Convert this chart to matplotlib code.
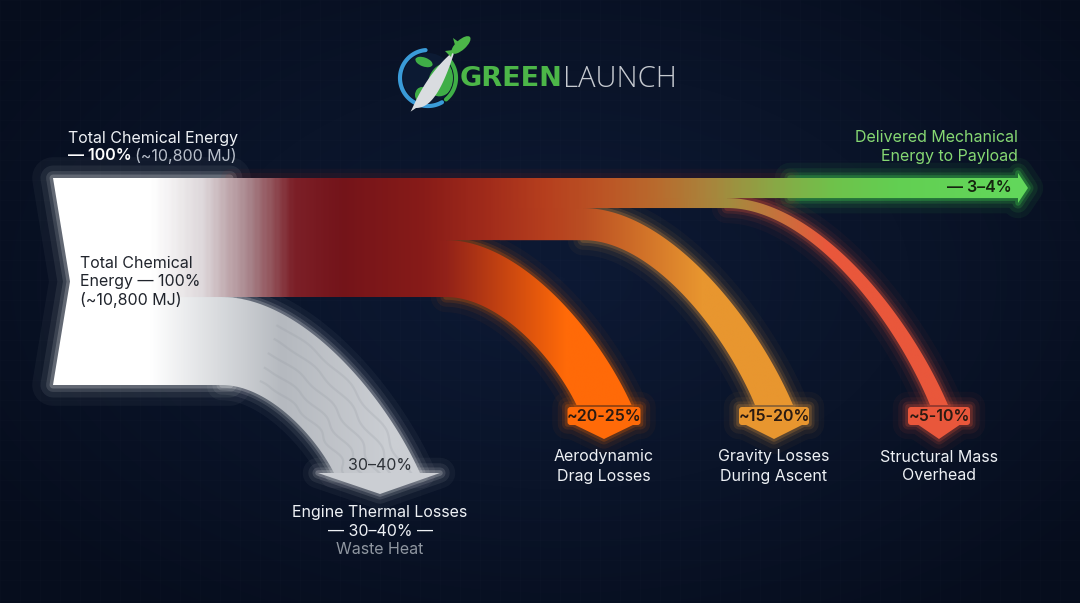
import numpy as np
import matplotlib
matplotlib.use("Agg")
import matplotlib.pyplot as plt
from matplotlib.patches import Polygon, FancyBboxPatch, Circle, Ellipse
from matplotlib.colors import LinearSegmentedColormap

# values (top to bottom of the source band)
flow_names = ["Delivered Mechanical\nEnergy to Payload", "Structural Mass\nOverhead",
              "Gravity Losses\nDuring Ascent", "Aerodynamic\nDrag Losses",
              "Engine Thermal Losses"]
flow_labels = ["— 3–4%", "~5-10%", "~15-20%", "~20-25%", "30–40%"]
band_pct = [9.7, 4.8, 15.5, 27.5, 42.5]  # drawn band thickness, % of source
source_title = "Total Chemical Energy"
source_value = "— 100%"
source_mj = "(~10,800 MJ)"
thermal_sub = ["— 30–40% —", "Waste Heat"]

FONT = ["Inter", "DejaVu Sans"]
BG = "#0a1429"

# layout (pixels)
TOP, HEIGHT = 178, 207
split_x = [None, 727, 583, 446, 222]
arrow_x = [None, 939, 774, 604, 377]
end_y = [None, 405, 405, 405, 473]
end_w = [None, 18, 38, 55, 86]
ext_left = [None, 640, 500, 390, 150]
fade_len = [None, 100, 120, 120, None]
branch_col = [None, "#e9573b", "#e8962f", "#ff6a08", None]
glow_col = [None, "#ff5a3a", "#f0a040", "#ff6a00", "#ffffff"]

y_edges = TOP + HEIGHT * np.concatenate([[0], np.cumsum(band_pct)]) / 100.0


def bez(p0, p3, k1=0.4, k2=(0.18, 0.45), n=80):
    p0 = np.array(p0, float)
    p3 = np.array(p3, float)
    dx, dy = p3 - p0
    p1 = np.array([p0[0] + k1 * dx, p0[1]])
    p2 = np.array([p3[0] - k2[0] * dx, p3[1] - k2[1] * dy])
    t = np.linspace(0, 1, n)[:, None]
    return (1 - t) ** 3 * p0 + 3 * (1 - t) ** 2 * t * p1 + 3 * (1 - t) * t ** 2 * p2 + t ** 3 * p3


def grad_fill(ax, verts, cmap, tfunc, z):
    verts = np.asarray(verts, float)
    poly = Polygon(verts, closed=True, facecolor="none", edgecolor="none", zorder=z)
    ax.add_patch(poly)
    x0, y0 = verts.min(0) - 1
    x1, y1 = verts.max(0) + 1
    X, Y = np.meshgrid(np.linspace(x0, x1, 400), np.linspace(y0, y1, 300))
    im = ax.imshow(np.clip(tfunc(X, Y), 0, 1), cmap=cmap, vmin=0, vmax=1,
                   extent=(x0, x1, y1, y0), origin="upper", zorder=z,
                   interpolation="bilinear", aspect="auto")
    im.set_clip_path(poly)
    return poly


def glow(ax, verts, color, z, widths=(22, 14, 8, 4), alphas=(0.04, 0.07, 0.12, 0.2)):
    for w, a in zip(widths, alphas):
        ax.add_patch(Polygon(verts, closed=True, fill=False, edgecolor=color, lw=w,
                             alpha=a, joinstyle="round", zorder=z))


fig = plt.figure(figsize=(10.8, 6.03), dpi=100)
fig.patch.set_facecolor(BG)
ax = fig.add_axes([0, 0, 1, 1])
ax.set_facecolor(BG)

# background: soft vignette and faint grid
X, Y = np.meshgrid(np.linspace(0, 1080, 216), np.linspace(0, 603, 120))
r = np.sqrt(((X - 560) / 700) ** 2 + ((Y - 280) / 420) ** 2)
bg_cmap = LinearSegmentedColormap.from_list("bg", ["#0d1934", "#0a1429", "#060d1d"])
ax.imshow(np.clip(r, 0, 1), cmap=bg_cmap, extent=(0, 1080, 603, 0), origin="upper",
          zorder=0, aspect="auto", interpolation="bilinear")
for gx in np.arange(0, 1080, 20):
    ax.axvline(gx, color="#ffffff", lw=0.5, alpha=0.015, zorder=0.5)
for gy in np.arange(0, 603, 20):
    ax.axhline(gy, color="#ffffff", lw=0.5, alpha=0.015, zorder=0.5)

# trunk (source block + delivered band)
yb = y_edges
trunk = [(53, yb[0]), (1018, yb[0]), (1018, 173), (1028, 188), (1018, 203), (1018, yb[1]),
         (split_x[1], yb[1]), (split_x[1], yb[2]), (split_x[2], yb[2]), (split_x[2], yb[3]),
         (split_x[3], yb[3]), (split_x[3], yb[4]), (split_x[4], yb[4]), (split_x[4], yb[5]),
         (53, yb[5]), (70, (yb[0] + yb[5]) / 2)]
trunk_stops = [(53, "#ffffff"), (150, "#ffffff"), (200, "#ded8db"), (250, "#a57f86"),
               (292, "#7c2028"), (340, "#74141a"), (420, "#871b18"), (490, "#a22c1b"),
               (545, "#b63f1e"), (610, "#bc5726"), (660, "#b86c2e"), (710, "#a9843c"),
               (770, "#8ca545"), (835, "#6fc24b"), (900, "#62cf52"), (1028, "#63d85c")]
tx0, tx1 = 53, 1028
trunk_cmap = LinearSegmentedColormap.from_list(
    "trunk", [((x - tx0) / (tx1 - tx0), c) for x, c in trunk_stops])


def trunk_color(x):
    return trunk_cmap((x - tx0) / (tx1 - tx0))


# glows
src_glow = [(53, yb[0]), (230, yb[0]), (230, yb[5]), (53, yb[5]), (70, (yb[0] + yb[5]) / 2)]
glow(ax, src_glow, "#ffffff", 1, widths=(30, 18, 10, 5), alphas=(0.04, 0.07, 0.12, 0.2))
green_glow = [(790, yb[0]), (1018, yb[0]), (1018, 173), (1028, 188), (1018, 203),
              (1018, yb[1]), (790, yb[1])]
glow(ax, green_glow, "#4dff55", 1, widths=(22, 14, 8, 4), alphas=(0.05, 0.08, 0.13, 0.22))
red_glow = [(230, yb[0]), (790, yb[0]), (790, yb[1]), (230, yb[1])]
glow(ax, red_glow, "#c02a1a", 1, widths=(14, 8), alphas=(0.05, 0.08))

grad_fill(ax, trunk, trunk_cmap, lambda X, Y: (X - tx0) / (tx1 - tx0), 2)

# branches
polys = {}
for i in (4, 3, 2, 1):
    xs, xe, ye, we = split_x[i], arrow_x[i], end_y[i], end_w[i]
    xl = ext_left[i]
    outer = bez((xs, yb[i]), (xe + we / 2, ye))
    inner = bez((xs, yb[i + 1]), (xe - we / 2, ye))
    verts = np.vstack([[(xl, yb[i])], outer, inner[::-1], [(xl, yb[i + 1])]])
    glow(ax, np.vstack([outer, inner[::-1]]), glow_col[i], 1)
    if i == 4:
        cm = LinearSegmentedColormap.from_list(
            "th", [(0, "#ffffff"), (0.55, "#b5b9bf"), (1, "#cbced3")])
        tf = lambda X, Y: (X - 150) / 240
    else:
        xh = xs + fade_len[i]
        stops = [((x - xl) / (xh - xl), trunk_color(x)) for x in np.linspace(xl, xs, 8)]
        stops.append((1.0, branch_col[i]))
        cm = LinearSegmentedColormap.from_list("b%d" % i, stops)
        tf = lambda X, Y, xl=xl, xh=xh: (X - xl) / (xh - xl)
    polys[i] = grad_fill(ax, verts, cm, tf, 3)
    if i == 4:
        # smoky streaks inside the thermal band
        for f, ph in zip([0.15, 0.32, 0.5, 0.68, 0.85], [0, 1.3, 2.1, 0.7, 2.8]):
            line = (inner * (1 - f) + outer * f).copy()
            tt = np.linspace(0, 1, len(line))
            line[:, 0] += 4 * np.sin(tt * 30 + ph) * tt
            sel = tt > 0.25
            ln, = ax.plot(line[sel, 0], line[sel, 1], color="#8e949c", lw=1.6, alpha=0.2, zorder=3.5)
            ln.set_clip_path(polys[i])

# thermal arrow head
ah = [(318, 473), (440, 473), (380, 494)]
glow(ax, ah, "#ffffff", 1)
ax.add_patch(Polygon(ah, closed=True, facecolor="#cbced3", edgecolor="none", zorder=3.6))
ax.text(380, 466, flow_labels[4], ha="center", va="center", fontsize=11.5,
        color="#2e3238", family=FONT, zorder=5)

# label boxes with chevrons for the other losses
box_w = [None, 62, 70, 73]
tri_half = [None, 22, 30, 31]
for i in (1, 2, 3):
    cx = arrow_x[i]
    bw = box_w[i]
    col = branch_col[i]
    tri = [(cx - tri_half[i], 424), (cx + tri_half[i], 424), (cx, 439)]
    box_outline = [(cx - bw / 2, 407), (cx + bw / 2, 407), (cx + bw / 2, 424),
                   (cx + tri_half[i], 424), (cx, 439), (cx - tri_half[i], 424), (cx - bw / 2, 424)]
    glow(ax, box_outline, glow_col[i], 1)
    ax.add_patch(Polygon(tri, closed=True, facecolor=col, edgecolor="none", zorder=4))
    ax.add_patch(FancyBboxPatch((cx - bw / 2, 407), bw, 18,
                                boxstyle="round,pad=0,rounding_size=3",
                                facecolor=col, edgecolor="none", zorder=4))
    ax.text(cx, 416.5, flow_labels[i], ha="center", va="center", fontsize=11.5,
            color="#2a1a12", family=FONT, fontweight="semibold", zorder=5)
    l1, l2 = flow_names[i].split("\n")
    ax.text(cx, 457, l1, ha="center", va="center", fontsize=11.5, color="#eef1f5", family=FONT, zorder=5)
    ax.text(cx, 476, l2, ha="center", va="center", fontsize=11.5, color="#eef1f5", family=FONT, zorder=5)

# texts
ax.text(68, 138, source_title, ha="left", va="center", fontsize=11.5, color="#eef1f5", family=FONT)
ax.text(68, 156, source_value, ha="left", va="center", fontsize=11.5, color="#ffffff",
        family=FONT, fontweight="semibold")
ax.text(135, 156, source_mj, ha="left", va="center", fontsize=11.5, color="#b8bfca", family=FONT)

for k, s in enumerate(["Total Chemical", "Energy — 100%", "(~10,800 MJ)"]):
    ax.text(80, 263 + 18.5 * k, s, ha="left", va="center", fontsize=11.5,
            color="#20242c", family=FONT, zorder=5)

d1, d2 = flow_names[0].split("\n")
ax.text(1018, 137, d1, ha="right", va="center", fontsize=11.5, color="#86d873", family=FONT)
ax.text(1018, 156, d2, ha="right", va="center", fontsize=11.5, color="#86d873", family=FONT)
ax.text(1012, 188, flow_labels[0], ha="right", va="center", fontsize=11.5,
        color="#15240f", family=FONT, fontweight="semibold", zorder=5)

ax.text(380, 512, flow_names[4], ha="center", va="center", fontsize=11.5, color="#eef1f5", family=FONT)
ax.text(380, 531, thermal_sub[0], ha="center", va="center", fontsize=11.5, color="#eef1f5", family=FONT)
ax.text(380, 549, thermal_sub[1], ha="center", va="center", fontsize=11.5, color="#8f96a0", family=FONT)

# logo
cx, cy, R = 428, 78, 28
ax.add_patch(Circle((cx, cy), R - 3, facecolor="#0c1a33", edgecolor="none", zorder=6))
globe = Circle((cx, cy), R - 3, facecolor="none", edgecolor="none", zorder=6)
ax.add_patch(globe)
for (ex, ey, w, h, ang) in [(442, 80, 26, 34, 25), (422, 95, 14, 16, 0), (424, 62, 18, 9, 20)]:
    blob = Ellipse((ex, ey), w, h, angle=ang, facecolor="#3fae47", edgecolor="none", zorder=6.1)
    ax.add_patch(blob)
    blob.set_clip_path(globe)
a = np.radians(np.linspace(95, 300, 80))
ax.plot(cx + R * np.cos(a), cy - R * np.sin(a), color="#3a9bd8", lw=3, zorder=6.2,
        solid_capstyle="round")
a = np.radians(np.linspace(-50, 40, 40))
ax.plot(cx + R * np.cos(a), cy - R * np.sin(a), color="#3fae47", lw=3, zorder=6.2,
        solid_capstyle="round")
sw_out = bez((410, 112), (455, 50), k1=0.05, k2=(0.75, 0.45), n=40)
sw_in = bez((416, 108), (455, 50), k1=0.35, k2=(0.35, 0.75), n=40)
ax.add_patch(Polygon(np.vstack([sw_out, sw_in[::-1]]), closed=True, facecolor="#d9dce0",
                     edgecolor="none", zorder=6.3))
ax.add_patch(Ellipse((461, 45), 24, 10, angle=-42, facecolor="#4cb648",
                     edgecolor="none", zorder=6.4))
ax.add_patch(Polygon([(453, 50), (445, 51), (451, 57)], closed=True, facecolor="#4cb648",
                     edgecolor="none", zorder=6.4))
ax.add_patch(Polygon([(455, 45), (453, 38), (460, 43)], closed=True, facecolor="#4cb648",
                     edgecolor="none", zorder=6.4))
ax.text(460, 79, "GREEN", ha="left", va="center", fontsize=19.5, fontweight="bold",
        color="#4cb648", family=["DejaVu Sans"])
ax.text(563, 79, "LAUNCH", ha="left", va="center", fontsize=21, fontweight="light",
        color="#c6cad0", family=["Open Sans", "DejaVu Sans"])

ax.set_xlim(0, 1080)
ax.set_ylim(603, 0)
ax.axis("off")
fig.savefig("out.png", dpi=100, facecolor=BG)
